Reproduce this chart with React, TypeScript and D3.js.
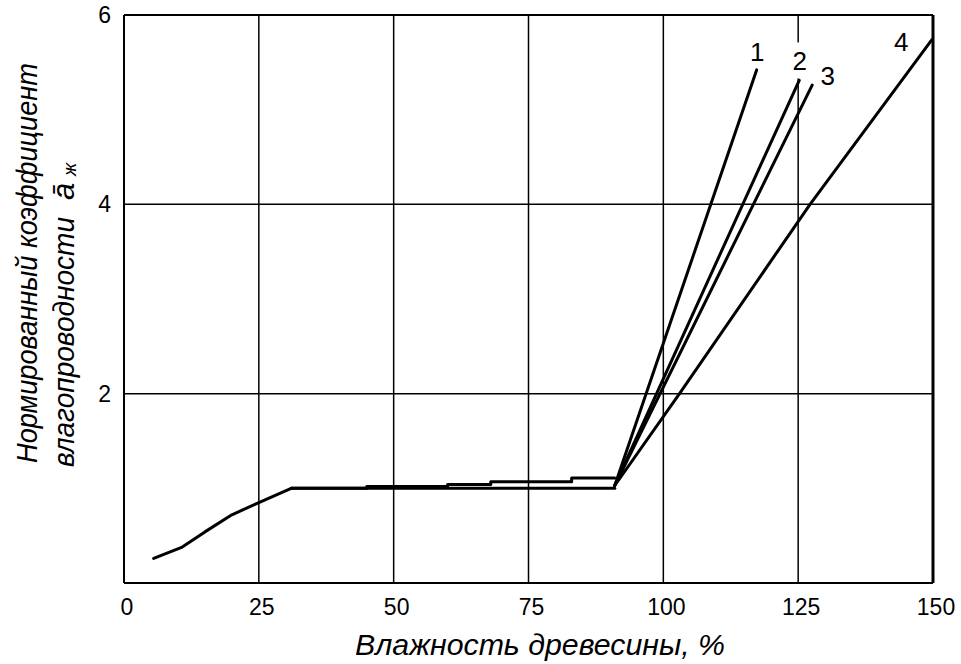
import React from 'react';
import * as d3 from 'd3';

const xTicks = [0, 25, 50, 75, 100, 125, 150];
const yTicks = [2, 4, 6];

// common lower segment (rise to fibre saturation)
const baseX = [5.5, 10.8, 15, 20, 25, 31];
const baseY = [0.26, 0.38, 0.54, 0.72, 0.85, 1.0];

// two nearly flat branches
const lowerX = [31, 91];
const lowerY = [1.0, 1.0];
const upperX = [31, 45, 45, 60, 60, 68, 68, 83, 83, 91];
const upperY = [1.0, 1.0, 1.02, 1.02, 1.04, 1.04, 1.07, 1.07, 1.11, 1.11];

// steep branches
const c1X = [91, 117.3];
const c1Y = [1.03, 5.42];
const c2X = [91, 125.2];
const c2Y = [1.03, 5.31];
const c3X = [91, 127.6];
const c3Y = [1.03, 5.26];
const c4X = [91, 103, 127.2, 149.8];
const c4Y = [1.03, 2.0, 4.0, 5.74];

const curveLabels = ['1', '2', '3', '4'];
const labelX = [117.4, 125.3, 130.5, 144.1];
const labelY = [5.61, 5.51, 5.36, 5.71];

const W = 961;
const H = 664;
const L = 124, R = 933, T = 15, B = 583;

export default function App() {
  const x = d3.scaleLinear().domain([0, 150]).range([L, R]);
  const y = d3.scaleLinear().domain([0, 6]).range([B, T]);
  const line = d3.line<[number, number]>().x(d => x(d[0])).y(d => y(d[1]));
  const pts = (xs: number[], ys: number[]) => xs.map((v, i) => [v, ys[i]] as [number, number]);
  const series = [
    pts(baseX, baseY), pts(lowerX, lowerY), pts(upperX, upperY),
    pts(c1X, c1Y), pts(c2X, c2Y), pts(c3X, c3Y), pts(c4X, c4Y),
  ];
  const font = '"Liberation Sans", Arial, sans-serif';
  return (
    <svg width={W} height={H} style={{ position: 'absolute', left: 0, top: 0, background: '#fff' }}
      fontFamily={font}>
      <rect x={0} y={0} width={W} height={H} fill="#fff" />
      {/* grid */}
      {xTicks.slice(1, -1).map(t => (
        <line key={'gx' + t} x1={x(t)} x2={x(t)} y1={T} y2={B} stroke="#000" strokeWidth={1.5} />
      ))}
      {yTicks.slice(0, -1).map(t => (
        <line key={'gy' + t} x1={L} x2={R} y1={y(t)} y2={y(t)} stroke="#000" strokeWidth={1.5} />
      ))}
      {/* frame */}
      <line x1={L} x2={R} y1={T} y2={T} stroke="#000" strokeWidth={2} />
      <line x1={L} x2={R} y1={B} y2={B} stroke="#000" strokeWidth={2} />
      <line x1={L} x2={L} y1={T} y2={B} stroke="#000" strokeWidth={2} />
      <line x1={R} x2={R} y1={T} y2={B} stroke="#000" strokeWidth={3} />
      {/* white gap behind label 2 */}
      <rect x={x(125) - 6} y={y(5.71)} width={12} height={y(5.33) - y(5.71)} fill="#fff" />
      {/* curves */}
      {series.map((s, i) => (
        <path key={'s' + i} d={line(s) || ''} fill="none" stroke="#000" strokeWidth={3}
          strokeLinejoin="round" strokeLinecap="round" />
      ))}
      {/* curve labels */}
      {curveLabels.map((c, i) => (
        <text key={'cl' + c} x={x(labelX[i])} y={y(labelY[i]) + 9} fontSize={26} textAnchor="middle"
          fill="#000">{c}</text>
      ))}
      {/* x tick labels */}
      {xTicks.map(t => (
        <text key={'xt' + t} x={x(t) + 3} y={615} fontSize={23} textAnchor="middle" fill="#000">{t}</text>
      ))}
      {/* y tick labels */}
      {yTicks.map(t => (
        <text key={'yt' + t} x={111} y={y(t) + 8} fontSize={23} textAnchor="end" fill="#000">{t}</text>
      ))}
      {/* axis titles */}
      <text x={355} y={655} fontSize={29} fontStyle="italic" textAnchor="start" fill="#000"
        textLength={370} lengthAdjust="spacingAndGlyphs">
        Влажность древесины, %
      </text>
      <text transform="translate(37,463) rotate(-90)" fontSize={29} fontStyle="italic" textAnchor="start" fill="#000"
        textLength={400} lengthAdjust="spacingAndGlyphs">
        Нормированный коэффициент
      </text>
      <text transform="translate(74,467) rotate(-90)" fontSize={29} fontStyle="italic" textAnchor="start" fill="#000"
        textLength={250} lengthAdjust="spacingAndGlyphs">
        влагопроводности
      </text>
      <text transform="translate(74,200) rotate(-90)" fontSize={31} fontStyle="italic" textAnchor="start" fill="#000">
        ā
      </text>
      <text transform="translate(76,176) rotate(-90)" fontSize={19} fontStyle="italic" textAnchor="start" fill="#000">
        ж
      </text>
    </svg>
  );
}
